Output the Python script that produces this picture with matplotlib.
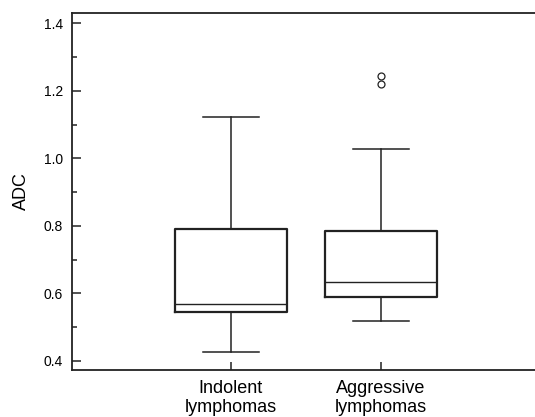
import matplotlib
matplotlib.use("Agg")
import matplotlib.pyplot as plt
from matplotlib.ticker import MultipleLocator

plt.rcParams['font.family'] = ['Liberation Sans', 'DejaVu Sans']

# box statistics
groups = ["Indolent\nlymphomas", "Aggressive\nlymphomas"]
q1 = [0.544, 0.590]
med = [0.569, 0.635]
q3 = [0.790, 0.786]
whislo = [0.425, 0.519]
whishi = [1.123, 1.027]
fliers = [[], [1.220, 1.244]]

stats = []
for i in range(len(groups)):
    stats.append(dict(q1=q1[i], med=med[i], q3=q3[i], whislo=whislo[i],
                      whishi=whishi[i], fliers=fliers[i], label=groups[i]))

c = "#222222"
fig = plt.figure(figsize=(5.35, 4.17), dpi=100)
ax = fig.add_axes([72/535, 47/417, 1 - 72/535, 357/417])

ax.bxp(stats, positions=[1, 2], widths=0.747,
       boxprops=dict(color=c, linewidth=1.6),
       whiskerprops=dict(color=c, linewidth=1.1),
       capprops=dict(color=c, linewidth=1.1),
       medianprops=dict(color=c, linewidth=1.0),
       flierprops=dict(marker='o', markerfacecolor='none', markeredgecolor=c,
                       markersize=5, markeredgewidth=0.9),
       capwidths=0.373)

ax.set_xlim(-0.06, 3.03)
ax.set_ylim(0.373, 1.4305)
ax.yaxis.set_major_locator(MultipleLocator(0.2))
ax.yaxis.set_minor_locator(MultipleLocator(0.1))
ax.set_yticklabels([f"{v:.1f}" for v in ax.get_yticks()])
ax.set_ylim(0.373, 1.4305)

ax.spines['right'].set_visible(False)
for s in ['left', 'top', 'bottom']:
    ax.spines[s].set_linewidth(1.3)
    ax.spines[s].set_color(c)

ax.tick_params(axis='y', which='major', direction='in', length=6.5, width=1.1,
               color=c, labelsize=10, pad=6.5, right=False)
ax.tick_params(axis='y', which='minor', direction='in', length=3.6, width=1.1,
               color=c, right=False)
ax.tick_params(axis='x', which='major', direction='in', length=6, width=1.1,
               color=c, labelsize=13, pad=7, top=False)
ax.set_ylabel("ADC", fontsize=13, labelpad=10)

fig.savefig("out.png", dpi=100)
